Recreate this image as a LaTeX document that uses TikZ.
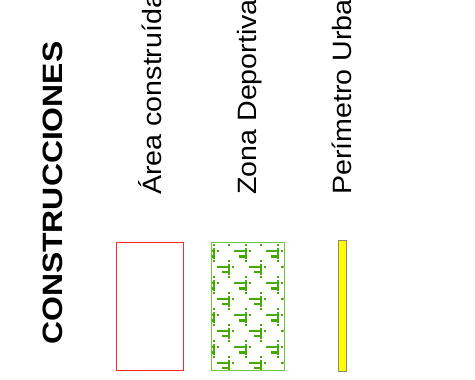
\documentclass[tikz,border=0pt]{standalone}
\usepackage{fontspec}
\setmainfont{Liberation Sans}
\usepackage{graphicx}
\definecolor{hatchgreen}{RGB}{66,170,0}
\definecolor{zoneedge}{RGB}{110,200,60}
\definecolor{areared}{RGB}{255,40,40}
\definecolor{barfill}{RGB}{255,255,0}
\definecolor{baredge}{RGB}{140,140,110}
\tikzset{
  titletext/.style={rotate=90, anchor=base west, inner sep=0pt, font=\fontsize{28}{30}\selectfont\bfseries},
  legendtext/.style={rotate=90, anchor=base west, inner sep=0pt, font=\fontsize{26.5}{28}\selectfont},
  motif/.pic={
    \fill[hatchgreen] (-1,-2.5) rectangle (1,8.5);
    \fill[hatchgreen] (-12,-1) rectangle (0,1);
    \fill[hatchgreen] (-6.7,4) rectangle (0,6.7);
    \fill[hatchgreen] (-1,-7) rectangle (1,-5);
    \fill[hatchgreen] (-1,9.5) rectangle (1,11.5);
    \fill[hatchgreen] (3,-1) rectangle (5,1);
  }
}
\begin{document}
\begin{tikzpicture}[x=1pt,y=-1pt]
\useasboundingbox (0,0) rectangle (475,380);
\begin{scope}
\clip (0,0) rectangle (475,380);
% title
\node[titletext] (title) at (63,345) {\scalebox{1.14}[1]{CONSTRUCCIONES}};
% legend labels
\node[legendtext] (lblarea) at (161,195) {\scalebox{1.08}[1]{Área construída}};
\node[legendtext] (lblzona) at (256.5,195) {\scalebox{1.08}[1]{Zona Deportiva}};
\node[legendtext] (lblper) at (351.5,195) {\scalebox{1.08}[1]{Perímetro Urbano}};
% red box
\node[draw=areared, line width=1pt, inner sep=0pt, minimum width=67pt, minimum height=128pt] (areabox) at (149.5,306) {};
% green hatched box
\begin{scope}
\clip (211.5,242.5) rectangle (283.5,369.5);
\foreach \i in {0,1,2} \foreach \j in {-1,0,1,2,3,4}
  \pic at ({214+32*\i},{250.9+32*\j}) {motif};
\foreach \i in {-1,0,1,2} \foreach \j in {-1,0,1,2,3}
  \pic at ({229+32*\i},{266.5+32*\j}) {motif};
\end{scope}
\node[draw=zoneedge, line width=1pt, inner sep=0pt, minimum width=73pt, minimum height=128pt] (zonabox) at (247.5,306) {};
% yellow bar
\node[draw=baredge, fill=barfill, line width=0.8pt, inner sep=0pt, minimum width=8pt, minimum height=131pt] (perbar) at (342.8,305.8) {};
\end{scope}
\end{tikzpicture}
\end{document}
